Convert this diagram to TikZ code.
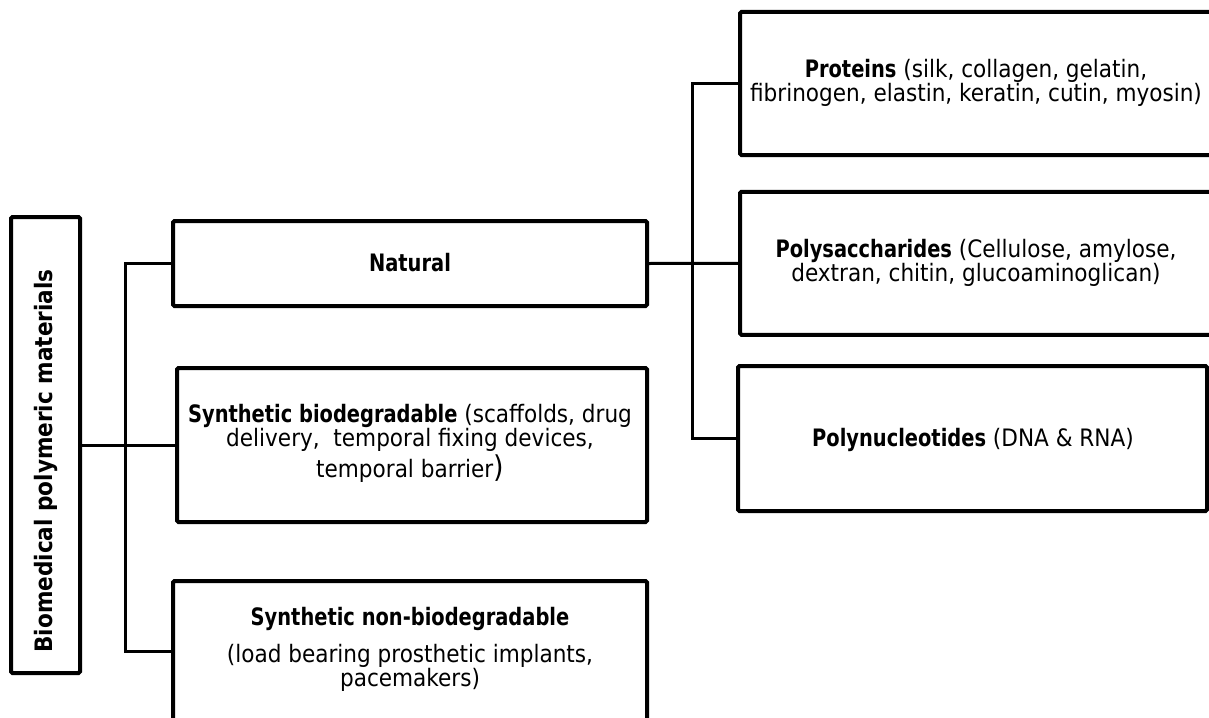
\documentclass[tikz,border=0pt]{standalone}
\usepackage{fontspec}
\setmainfont{DejaVu Sans Condensed}[BoldFeatures={FakeStretch=0.9}]
\newfontfamily\rootfont{DejaVu Sans Condensed Bold}
\usetikzlibrary{positioning}

\begin{document}
\begin{tikzpicture}[x=1pt,y=-1pt,
  box/.style={draw,line width=4pt,rounded corners=1.5pt,inner sep=0pt},
  conn/.style={line width=3pt},
  txt/.style={align=center,font=\fontsize{24}{24}\selectfont,inner sep=0pt}]
  \useasboundingbox (0,0) rectangle (1209,717);
  \node[box,minimum width=69pt,minimum height=456pt] (root) at (45.5,445) {};
  \node[txt,rotate=90] (roottxt) at (46,461) {\rootfont Biomedical polymeric materials};
  \node[box,minimum width=474pt,minimum height=85pt] (natural) at (410,263.5) {};
  \node[txt,anchor=base] (naturaltxt) at (410,271) {\textbf{Natural}};
  \node[box,minimum width=470pt,minimum height=154pt] (synbio) at (412,445) {};
  \node[txt] (synbiotxt) at (410,443.5) {\textbf{Synthetic biodegradable} (scaffolds, drug\\
    delivery,\ \ temporal fixing devices,\\[2.5pt]
    temporal barrier{\fontsize{30}{24}\selectfont)}};
  \node[box,minimum width=474pt,minimum height=140pt] (synnon) at (410,651) {};
  \node[txt] (synnontxt) at (410,649.7) {\textbf{Synthetic non-biodegradable}\\[13pt]
    (load bearing prosthetic implants,\\
    pacemakers)};
  \node[box,minimum width=472pt,minimum height=143pt] (proteins) at (976,83.5) {};
  \node[txt] (proteinstxt) at (976,83) {\textbf{Proteins} (silk, collagen, gelatin,\\
    fibrinogen, elastin, keratin, cutin, myosin)};
  \node[box,minimum width=472pt,minimum height=143pt] (polysac) at (976,263.3) {};
  \node[txt] (polysactxt) at (976,263.3) {\textbf{Polysaccharides} (Cellulose, amylose,\\
    dextran, chitin, glucoaminoglican)};
  \node[box,minimum width=469pt,minimum height=145pt] (polynuc) at (972.5,438.5) {};
  \node[txt,anchor=base] (polynuctxt) at (973,446.5) {\textbf{Polynucleotides} (DNA \& RNA)};
  \draw[conn] (root.east) -- (synbio.west);
  \draw[conn] (natural.west) -- ++(-46,0) |- (synnon.west);
  \draw[conn] (natural.east) -- (polysac.west);
  \draw[conn] (proteins.west) -- ++(-46,0) |- (polynuc.west);
\end{tikzpicture}
\end{document}
